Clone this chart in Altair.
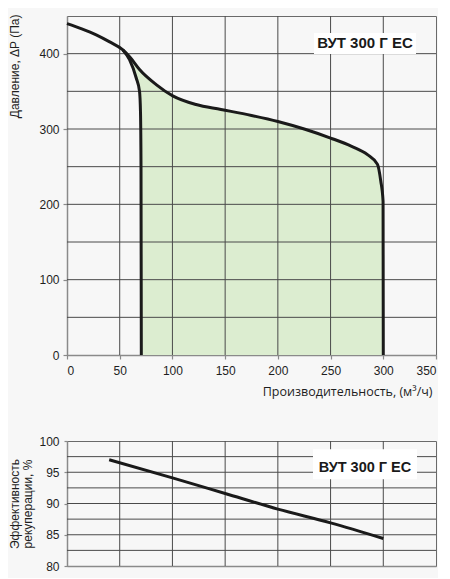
import altair as alt
import pandas as pd

# ---------- data ----------
# pressure curve, maximum speed (x: m3/h, y: Pa)
max_x = [0, 14, 27.7, 40, 53, 60, 68.8, 84.6, 100.3, 122.4, 146, 175, 200, 225, 250, 270, 285, 294.5, 297.6, 299.8, 300]
max_p = [440, 433, 425, 416, 405, 395, 379, 359, 344, 332.5, 326, 318, 310, 300, 288, 277, 266, 253, 231, 204, 0]
# pressure curve, minimum speed
min_x = [53, 59.3, 65.6, 68.8, 69.7, 70.2, 70.5]
min_p = [405, 392, 368, 350, 323, 250, 0]
# working zone (between the two curves)
fill_x = [53, 60, 65.6, 68.8, 69.7, 70.2, 70.5, 84.6, 100.3, 122.4, 146, 175, 200, 225, 250, 270, 285, 294.5, 297.6, 299.8, 300]
fill_top = [405, 395, 385, 379, 378, 377, 376.5, 359, 344, 332.5, 326, 318, 310, 300, 288, 277, 266, 253, 231, 204, 0]
fill_bot = [405, 390, 368, 350, 323, 250, 0, 0, 0, 0, 0, 0, 0, 0, 0, 0, 0, 0, 0, 0, 0]
# recuperation efficiency
eff_x = [40, 100, 150, 200, 250, 300]
eff_v = [97, 94.1, 91.6, 89.1, 86.9, 84.4]

x_ticks = [0, 50, 100, 150, 200, 250, 300, 350]
x_grid = [50, 100, 150, 200, 250, 300]
p_ticks = [0, 100, 200, 300, 400]
p_grid = [50, 100, 150, 200, 250, 300, 350, 400]
e_ticks = [80, 85, 90, 95, 100]
e_grid = [82.5, 85, 87.5, 90, 92.5, 95, 97.5]

model_label = "ВУТ 300 Г ЕС"
x_title = "Производительность, (м³/ч)"
p_title = "Давление, ΔP (Па)"
e_title = ["Эффективность", "рекуперации, %"]

# ---------- styling ----------
W = 369
GRID = "#4a4a4a"
LINE = "#1a1a1a"
FILL = "#dcedd0"
BG = "#f7f7f7"
TITLE_X = -57.5

xs = alt.Scale(domain=[0, 350], nice=False, zero=False)
ps = alt.Scale(domain=[0, 450], nice=False)
es = alt.Scale(domain=[80, 100], nice=False, zero=False)

top_x_axis = alt.Axis(values=x_ticks, title=x_title, tickSize=4, labelPadding=6,
                      titleFont="Open Sans", titleFontSize=12.5, titleFontWeight="normal",
                      titleAlign="right", titleAnchor="end", titleX=365, titleY=40,
                      titleBaseline="alphabetic")
top_y_axis = alt.Axis(values=p_ticks, title=p_title, tickSize=4, labelPadding=4,
                      titleAngle=270, titleAlign="right", titleBaseline="top",
                      titleX=TITLE_X, titleY=-2, titleFontSize=12, titleFontWeight="normal")
bot_x_axis = alt.Axis(labels=False, ticks=False, title=None)
bot_y_axis = alt.Axis(values=e_ticks, title=e_title, tickSize=3, labelPadding=5,
                      titleAngle=270, titleAlign="center", titleBaseline="top",
                      titleX=TITLE_X, titleY=62.5, titleFontSize=12, titleFontWeight="normal",
                      titleLineHeight=13)

max_df = pd.DataFrame({"x": max_x, "p": max_p})
min_df = pd.DataFrame({"x": min_x, "p": min_p})
fill_df = pd.DataFrame({"x": fill_x, "p": fill_top, "bot": fill_bot})
eff_df = pd.DataFrame({"x": eff_x, "v": eff_v})
xg_df = pd.DataFrame({"x": x_grid})
pg_df = pd.DataFrame({"p": p_grid})
eg_df = pd.DataFrame({"v": e_grid})
lab_df = pd.DataFrame({"t": [model_label]})

TX = alt.X("x:Q", scale=xs, axis=top_x_axis)
TY = alt.Y("p:Q", scale=ps, axis=top_y_axis)
BX = alt.X("x:Q", scale=xs, axis=bot_x_axis)
BY = alt.Y("v:Q", scale=es, axis=bot_y_axis)

# ---------- top chart ----------
top_fill = alt.Chart(fill_df).mark_area(color=FILL, interpolate="monotone").encode(
    x=TX, y=TY, y2="bot:Q")
top_xgrid = alt.Chart(xg_df).mark_rule(color=GRID, strokeWidth=1).encode(x=TX)
top_pgrid = alt.Chart(pg_df).mark_rule(color=GRID, strokeWidth=1).encode(y=TY)
top_max = alt.Chart(max_df).mark_line(color=LINE, strokeWidth=3, interpolate="monotone").encode(
    x=TX, y=TY)
top_min = alt.Chart(min_df).mark_line(color=LINE, strokeWidth=3, interpolate="monotone").encode(
    x=TX, y=TY)
top_box = alt.Chart(lab_df).mark_rect(color="white").encode(
    x=alt.value(247), x2=alt.value(349), y=alt.value(17), y2=alt.value(38))
top_text = alt.Chart(lab_df).mark_text(font="Liberation Sans", fontSize=15, fontWeight="bold",
                                       color=LINE, align="center", baseline="alphabetic").encode(
    text="t:N", x=alt.value(298), y=alt.value(31.7))

top = alt.layer(top_fill, top_xgrid, top_pgrid, top_max, top_min, top_box, top_text).properties(
    width=W, height=339)

# ---------- bottom chart ----------
bot_xgrid = alt.Chart(xg_df).mark_rule(color=GRID, strokeWidth=1).encode(x=BX)
bot_egrid = alt.Chart(eg_df).mark_rule(color=GRID, strokeWidth=1).encode(y=BY)
bot_line = alt.Chart(eff_df).mark_line(color=LINE, strokeWidth=3, interpolate="monotone").encode(
    x=BX, y=BY)
bot_box = alt.Chart(lab_df).mark_rect(color="white").encode(
    x=alt.value(246), x2=alt.value(350), y=alt.value(8.3), y2=alt.value(38.3))
bot_text = alt.Chart(lab_df).mark_text(font="Liberation Sans", fontSize=14.5, fontWeight="bold",
                                       color=LINE, align="center", baseline="alphabetic").encode(
    text="t:N", x=alt.value(298), y=alt.value(30.7))

bottom = alt.layer(bot_xgrid, bot_egrid, bot_line, bot_box, bot_text).properties(
    width=W, height=125)

chart = alt.vconcat(top, bottom, spacing=86, bounds="flush").properties(
    background=BG,
    padding={"left": 0, "top": 5, "right": 0, "bottom": 5},
).configure_view(
    stroke="#6a6a6a", strokeWidth=1, fill=BG
).configure_axis(
    grid=False,
    domainColor="#8a8a8a", domainWidth=1.5,
    tickColor="#8a8a8a", tickWidth=1.2,
    labelFont="Liberation Sans", labelFontSize=12, labelColor="#1e1e1e",
    titleFont="Liberation Sans", titleColor="#1e1e1e",
)

chart.save("out.html", embed_options={"renderer": "svg", "actions": False})
